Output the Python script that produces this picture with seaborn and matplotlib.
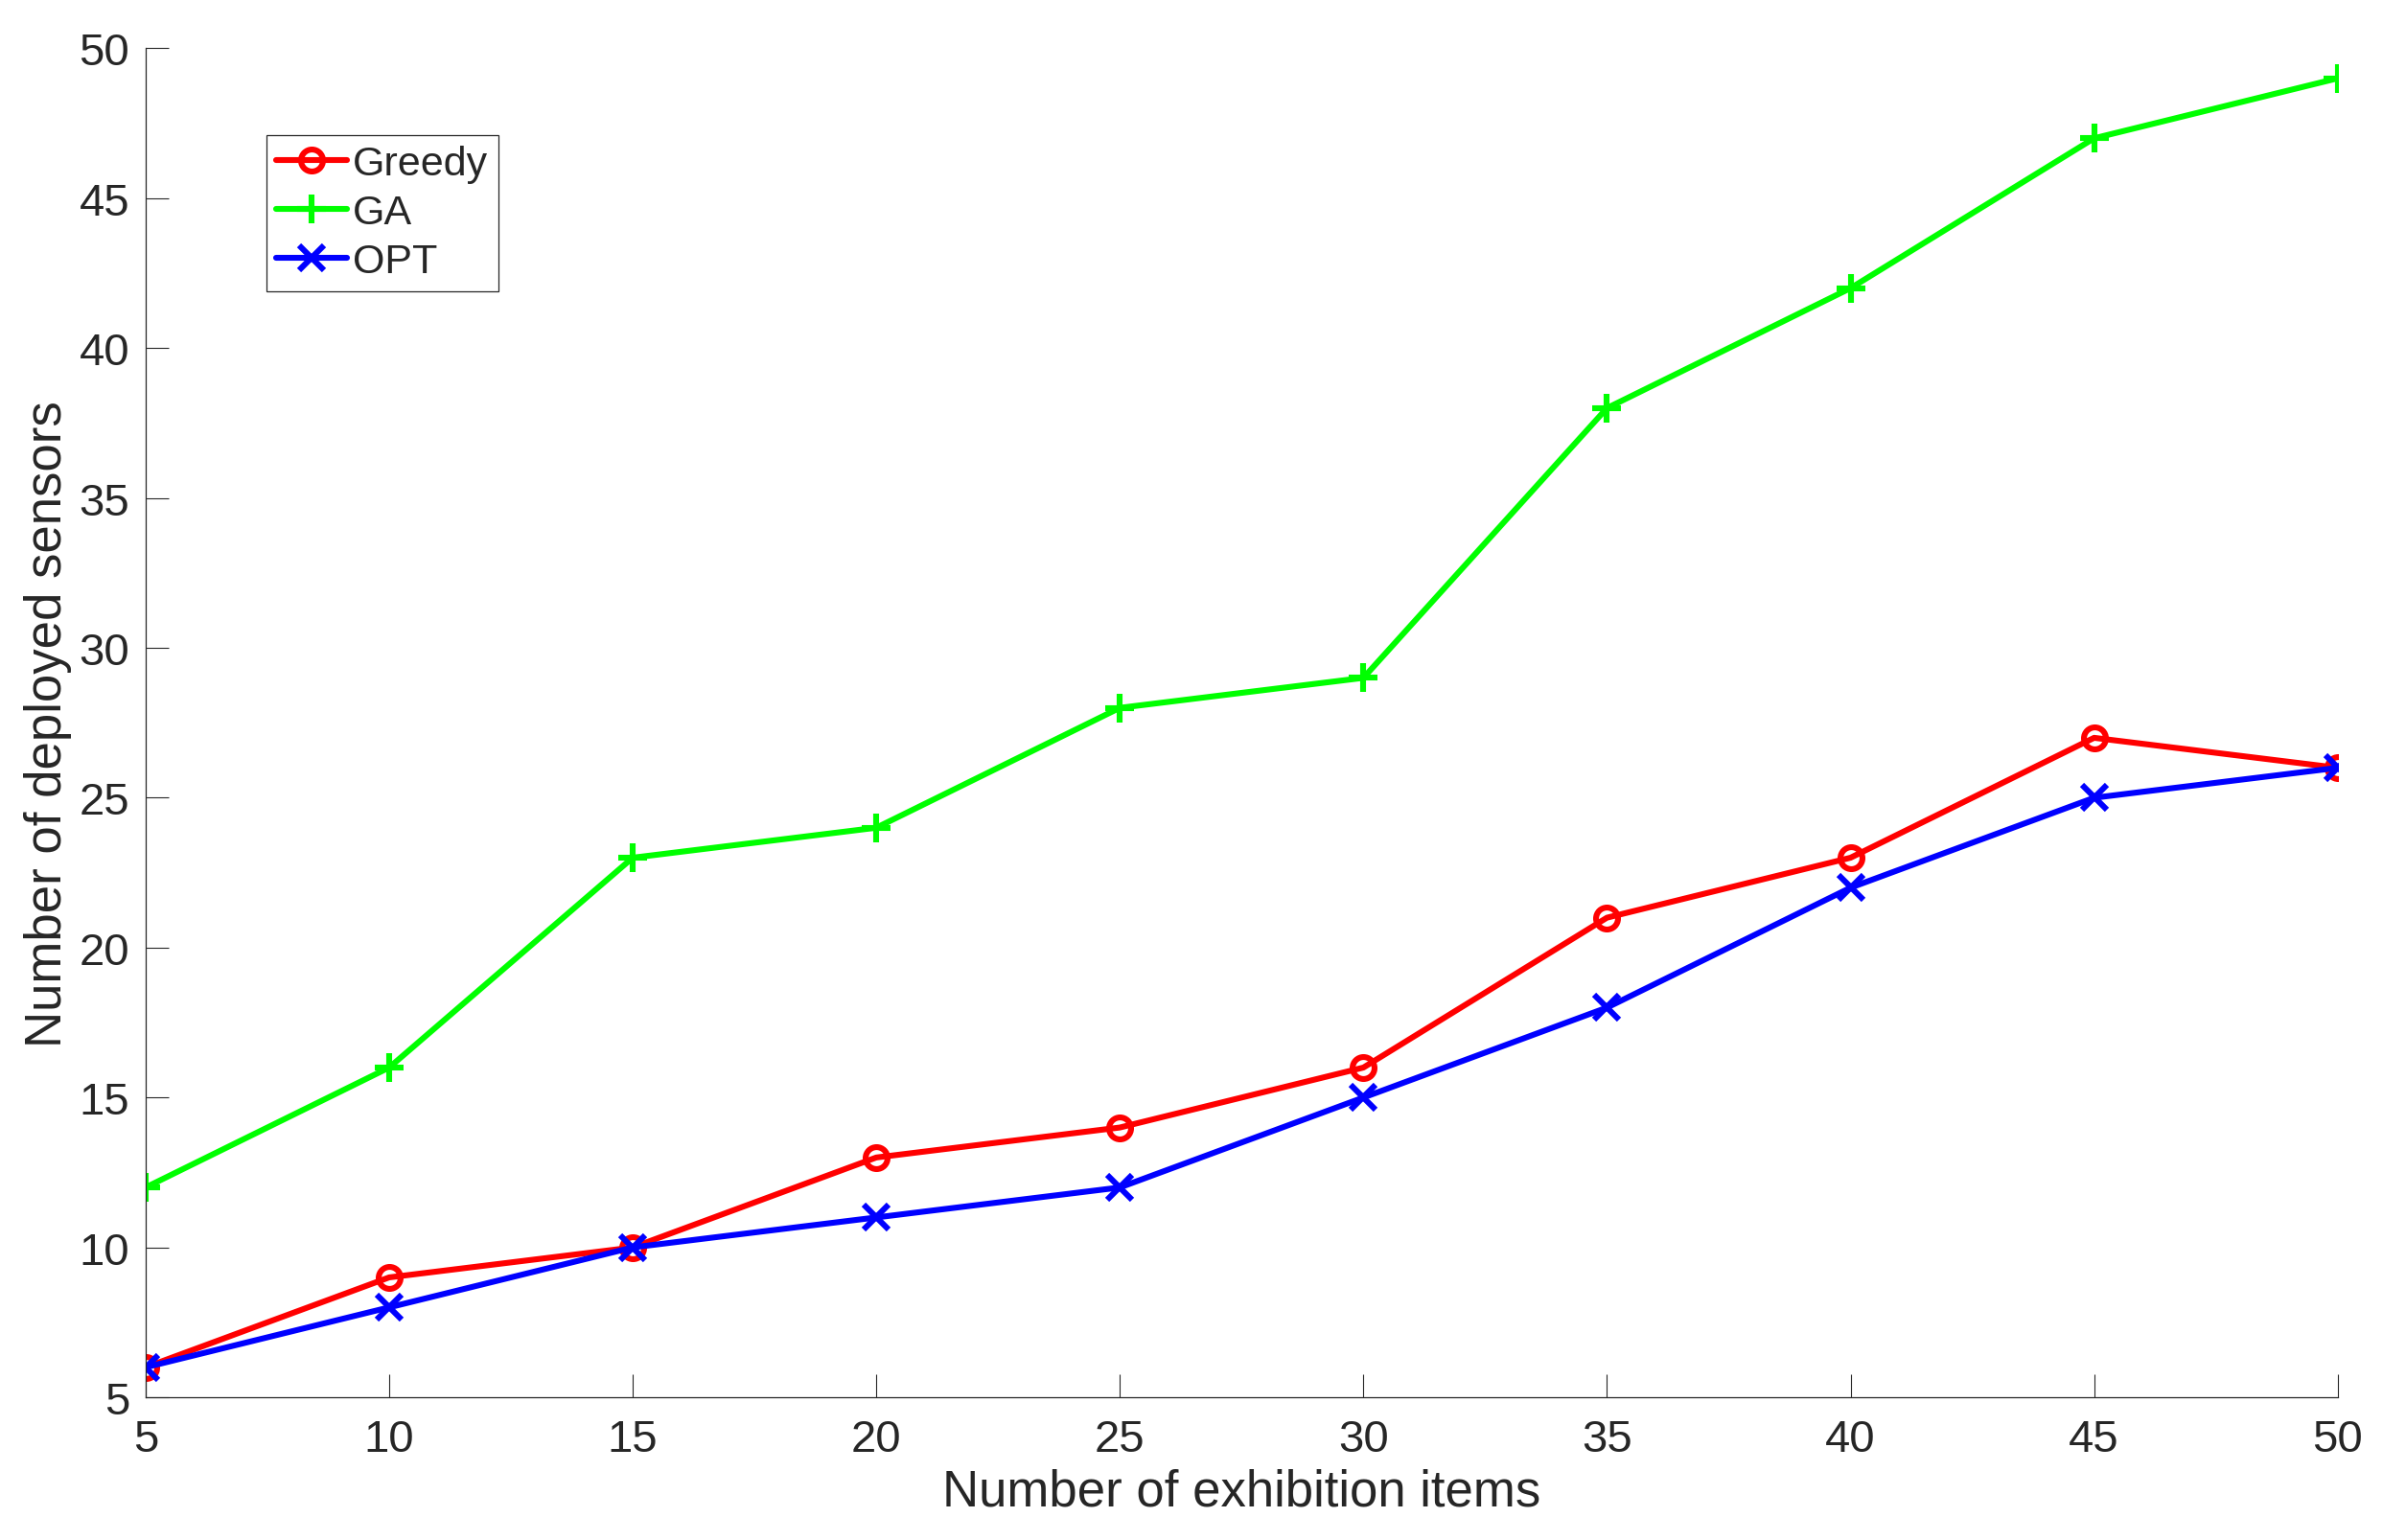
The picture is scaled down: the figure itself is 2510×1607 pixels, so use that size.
import pandas as pd
import seaborn as sns
import matplotlib.pyplot as plt

# data
items = [5, 10, 15, 20, 25, 30, 35, 40, 45, 50]
greedy = [6, 9, 10, 13, 14, 16, 21, 23, 27, 26]
ga = [12, 16, 23, 24, 28, 29, 38, 42, 47, 49]
opt = [6, 8, 10, 11, 12, 15, 18, 22, 25, 26]

series_names = ["Greedy", "GA", "OPT"]
series_colors = {"Greedy": "#ff0000", "GA": "#00ff00", "OPT": "#0000ff"}
series_markers = {"Greedy": "o", "GA": "+", "OPT": "x"}
marker_sizes = {"Greedy": 16.5, "GA": 22, "OPT": 18.5}

df = pd.DataFrame({
    "items": items * 3,
    "sensors": greedy + ga + opt,
    "method": ["Greedy"] * len(items) + ["GA"] * len(items) + ["OPT"] * len(items),
})

sns.set_style("ticks")
plt.rcParams["font.family"] = ["Liberation Sans", "DejaVu Sans"]

fig = plt.figure(figsize=(25.1, 16.08), dpi=100)
ax = fig.add_axes([0.0605, 0.0926, 0.9111, 0.8754])

for name in series_names:
    sub = df[df["method"] == name]
    sns.lineplot(
        data=sub, x="items", y="sensors", ax=ax,
        color=series_colors[name], marker=series_markers[name],
        markersize=marker_sizes[name], markeredgewidth=4.4,
        markerfacecolor="none", markeredgecolor=series_colors[name],
        linewidth=4.4, label=name,
    )

ax.set_xlim(5, 50)
ax.set_ylim(5, 50)
ax.set_xticks(range(5, 51, 5))
ax.set_yticks(range(5, 51, 5))

grey = "#262626"
for side in ["top", "right"]:
    ax.spines[side].set_visible(False)
for side in ["left", "bottom"]:
    ax.spines[side].set_color(grey)
    ax.spines[side].set_linewidth(0.9)
ax.tick_params(axis="both", direction="in", length=17, width=0.8,
               colors=grey, labelsize=34)
ax.tick_params(axis="x", pad=16)
ax.tick_params(axis="y", pad=12)

ax.set_xlabel("Number of exhibition items", fontsize=38, color=grey, labelpad=5)
ax.set_ylabel("Number of deployed sensors", fontsize=38, color=grey, labelpad=5)

leg = ax.legend(
    loc="upper left", bbox_to_anchor=(0.055, 0.936), fontsize=31,
    frameon=True, fancybox=False, edgecolor=grey, framealpha=1,
    handlelength=1.7, handletextpad=0.15, borderpad=0.25, labelspacing=0.25,
    borderaxespad=0,
)
leg.get_frame().set_linewidth(0.9)

fig.savefig("out.png", dpi=100, facecolor="white")
